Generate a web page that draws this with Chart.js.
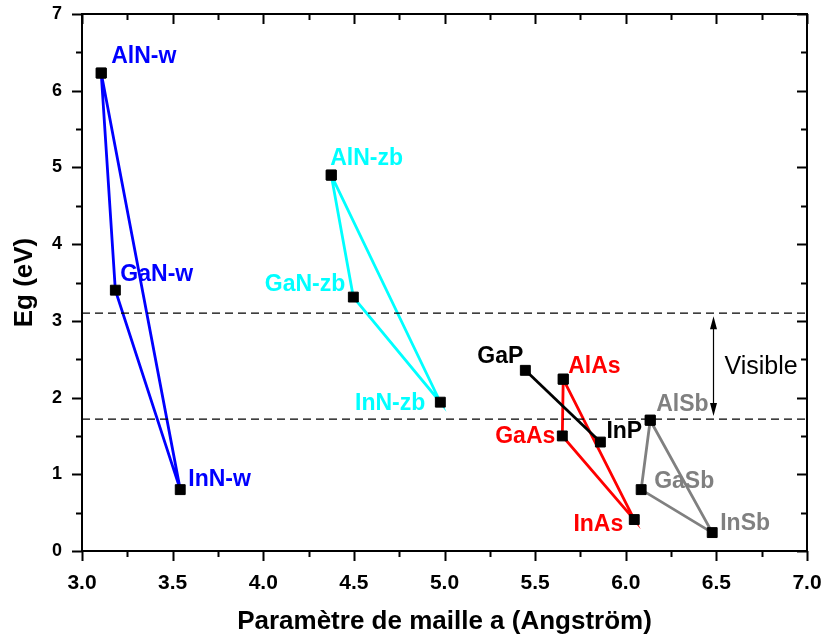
<!DOCTYPE html>
<html>
<head>
<meta charset="utf-8">
<script src="https://cdn.jsdelivr.net/npm/chart.js@4.4.1/dist/chart.umd.min.js"></script>
<style>
	html, body { margin: 0; padding: 0; background: #fff; }
	#wrap { width: 823px; height: 638px; }
</style>
</head>
<body>
<div id="wrap"><canvas id="gapChart"></canvas></div>
<script>
// compounds, lattice constant a (Angstrom) and gap Eg (eV)
const compounds = ["AlN-w", "GaN-w", "InN-w", "AlN-zb", "GaN-zb", "InN-zb", "GaP", "InP", "AlAs", "GaAs", "InAs", "AlSb", "GaSb", "InSb"];
const latticeA = [3.106, 3.184, 3.542, 4.375, 4.497, 4.977, 5.446, 5.86, 5.655, 5.65, 6.047, 6.135, 6.085, 6.477];
const bandGap = [6.23, 3.40, 0.80, 4.90, 3.31, 1.94, 2.355, 1.42, 2.24, 1.50, 0.41, 1.705, 0.80, 0.24];

// which compounds are joined together (closed = triangle)
const families = [
	{ members: [0, 1, 2], closed: true, color: "#0000ff" },
	{ members: [3, 4, 5], closed: true, color: "#00ffff" },
	{ members: [6, 7], closed: false, color: "#000000" },
	{ members: [8, 9, 10], closed: true, color: "#ff0000" },
	{ members: [11, 12, 13], closed: true, color: "#808080" },
];

// visible range limits (eV) and where the arrow stands
const visibleLimits = [1.72, 3.1];
const arrowA = 6.48;

const xTicks = [3.0, 3.5, 4.0, 4.5, 5.0, 5.5, 6.0, 6.5, 7.0];
const yTicks = [0, 1, 2, 3, 4, 5, 6, 7];

// label placement relative to the marker (pixels)
const labelPlace = [
	{ dx: 10, dy: -17, align: "left" },
	{ dx: 5, dy: -17, align: "left" },
	{ dx: 8, dy: -11, align: "left" },
	{ dx: -1, dy: -17, align: "left" },
	{ dx: -8, dy: -13, align: "right" },
	{ dx: -15, dy: 0, align: "right" },
	{ dx: -2, dy: -15, align: "right" },
	{ dx: 6, dy: -11, align: "left" },
	{ dx: 5, dy: -14, align: "left" },
	{ dx: -7, dy: 0, align: "right" },
	{ dx: -11, dy: 4, align: "right" },
	{ dx: 6, dy: -17, align: "left" },
	{ dx: 13, dy: -9, align: "left" },
	{ dx: 8, dy: -10, align: "left" },
];

const FONT = "'Liberation Sans', Arial, sans-serif";

const datasets = [];
visibleLimits.forEach((lim) => {
	datasets.push({
		data: [{ x: xTicks[0], y: lim }, { x: xTicks[xTicks.length - 1], y: lim }],
		borderColor: "#000",
		borderWidth: 1.2,
		borderDash: [8, 5],
		pointRadius: 0,
		showLine: true,
	});
});
families.forEach((fam) => {
	const idx = fam.closed ? fam.members.concat([fam.members[0]]) : fam.members;
	datasets.push({
		data: idx.map((i) => ({ x: latticeA[i], y: bandGap[i] })),
		borderColor: fam.color,
		borderWidth: 2.8,
		showLine: true,
		pointStyle: "rect",
		pointRadius: 7,
		pointBorderWidth: 1,
		pointBackgroundColor: "#000",
		pointBorderColor: "#000",
	});
});

function colorOf(i) {
	const fam = families.find((f) => f.members.includes(i));
	return fam.color;
}

// frame with minor ticks, mirrored on top and right (inside)
const framePlugin = {
	id: "frame",
	afterDraw(chart) {
		const { ctx, chartArea, scales } = chart;
		const { left, right, top, bottom } = chartArea;
		ctx.save();
		ctx.strokeStyle = "#000";
		ctx.lineWidth = 2;
		ctx.strokeRect(left, top, right - left, bottom - top);
		ctx.beginPath();
		for (let k = 0; k <= 16; k++) {
			const v = 3 + k * 0.25;
			const px = Math.round(scales.x.getPixelForValue(v)) + 0.5;
			const len = k % 2 === 0 ? 10 : 6;
			ctx.moveTo(px, bottom);
			ctx.lineTo(px, bottom + len);
			ctx.moveTo(px, top);
			ctx.lineTo(px, top + len);
		}
		for (let k = 0; k <= 14; k++) {
			const v = k * 0.5;
			const py = Math.round(scales.y.getPixelForValue(v)) + 0.5;
			const len = k % 2 === 0 ? 10 : 6;
			ctx.moveTo(left - len, py);
			ctx.lineTo(left, py);
			ctx.moveTo(right - len, py);
			ctx.lineTo(right, py);
		}
		ctx.stroke();
		ctx.restore();
	},
};

const labelPlugin = {
	id: "labels",
	afterDatasetsDraw(chart) {
		const { ctx, scales } = chart;
		ctx.save();
		ctx.font = "bold 23px " + FONT;
		ctx.textBaseline = "middle";
		compounds.forEach((name, i) => {
			const p = labelPlace[i];
			const px = scales.x.getPixelForValue(latticeA[i]);
			const py = scales.y.getPixelForValue(bandGap[i]);
			ctx.fillStyle = colorOf(i);
			ctx.textAlign = p.align;
			ctx.fillText(name, px + p.dx, py + p.dy + 1);
		});

		// double arrow for the visible range
		const ax = Math.round(scales.x.getPixelForValue(arrowA)) + 0.5;
		const y1 = scales.y.getPixelForValue(visibleLimits[1]) + 3;
		const y2 = scales.y.getPixelForValue(visibleLimits[0]) - 3;
		ctx.strokeStyle = "#000";
		ctx.fillStyle = "#000";
		ctx.lineWidth = 1.2;
		ctx.beginPath();
		ctx.moveTo(ax, y1 + 6);
		ctx.lineTo(ax, y2 - 6);
		ctx.stroke();
		ctx.beginPath();
		ctx.moveTo(ax, y1);
		ctx.lineTo(ax - 3.5, y1 + 13);
		ctx.lineTo(ax + 3.5, y1 + 13);
		ctx.closePath();
		ctx.moveTo(ax, y2);
		ctx.lineTo(ax - 3.5, y2 - 13);
		ctx.lineTo(ax + 3.5, y2 - 13);
		ctx.closePath();
		ctx.fill();

		ctx.font = "25px " + FONT;
		ctx.textAlign = "left";
		const vy = (scales.y.getPixelForValue(visibleLimits[0]) + scales.y.getPixelForValue(visibleLimits[1])) / 2;
		ctx.fillText("Visible", ax + 11, vy + 1);
		ctx.restore();
	},
};

new Chart(document.getElementById("gapChart"), {
	type: "scatter",
	data: { datasets: datasets },
	options: {
		responsive: true,
		maintainAspectRatio: false,
		animation: false,
		layout: { padding: { left: 0, top: 14, right: 16, bottom: 0 } },
		plugins: { legend: { display: false }, tooltip: { enabled: false } },
		scales: {
			x: {
				type: "linear",
				min: 3,
				max: 7,
				afterFit: (s) => {
					s.height = 87;
					s.paddingLeft = 0;
					s.paddingRight = 0;
				},
				afterBuildTicks: (s) => { s.ticks = xTicks.map((v) => ({ value: v })); },
				grid: { display: false },
				border: { display: false },
				ticks: {
					color: "#000",
					padding: 12,
					maxRotation: 0,
					font: { family: FONT, size: 21, weight: "bold" },
					callback: (v) => Number(v).toFixed(1),
				},
				title: {
					display: true,
					text: "Paramètre de maille a (Angström)",
					color: "#000",
					padding: { top: 0, bottom: 1 },
					font: { family: FONT, size: 26, weight: "bold", lineHeight: 1.2 },
				},
			},
			y: {
				type: "linear",
				min: 0,
				max: 7,
				afterFit: (s) => {
					s.width = 82;
					s.paddingTop = 0;
					s.paddingBottom = 0;
				},
				afterBuildTicks: (s) => { s.ticks = yTicks.map((v) => ({ value: v })); },
				grid: { display: false },
				border: { display: false },
				ticks: {
					color: "#000",
					padding: 12,
					font: { family: FONT, size: 18, weight: "bold" },
				},
				title: {
					display: true,
					text: "Eg (eV)",
					color: "#000",
					padding: { top: 9, bottom: 0 },
					font: { family: FONT, size: 26, weight: "bold", lineHeight: 1.2 },
				},
			},
		},
	},
	plugins: [framePlugin, labelPlugin],
});
</script>
</body>
</html>
